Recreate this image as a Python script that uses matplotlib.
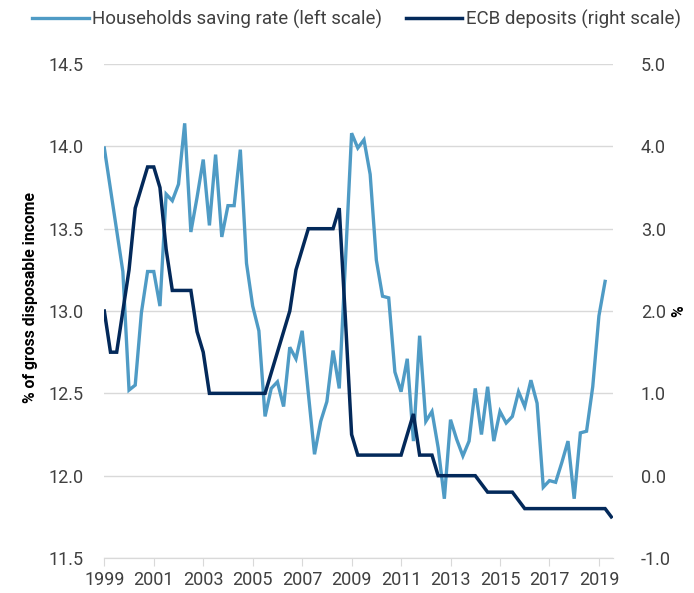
import matplotlib
matplotlib.use("Agg")
import matplotlib.pyplot as plt
import numpy as np

plt.rcParams['font.family'] = ['Roboto', 'DejaVu Sans']

# quarterly data, first quarter = 1999 Q1
start_year = 1999
saving_rate = [13.99, 13.74, 13.49, 13.24, 12.52, 12.55, 12.99, 13.24, 13.24, 13.03,
               13.71, 13.67, 13.77, 14.14, 13.48, 13.69, 13.92, 13.52, 13.95, 13.45,
               13.64, 13.64, 13.98, 13.29, 13.03, 12.88, 12.36, 12.53, 12.57, 12.42,
               12.78, 12.71, 12.88, 12.50, 12.13, 12.33, 12.45, 12.76, 12.53, 13.30,
               14.08, 13.99, 14.04, 13.83, 13.31, 13.09, 13.08, 12.63, 12.51, 12.71,
               12.21, 12.85, 12.33, 12.39, 12.17, 11.86, 12.34, 12.22, 12.12, 12.21,
               12.53, 12.25, 12.54, 12.21, 12.39, 12.32, 12.36, 12.51, 12.42, 12.58,
               12.44, 11.93, 11.97, 11.96, 12.08, 12.21, 11.86, 12.26, 12.27, 12.54,
               12.97, 13.18]
ecb_deposits = [2.0, 1.5, 1.5, 2.0, 2.5, 3.25, 3.5, 3.75, 3.75, 3.5,
                2.75, 2.25, 2.25, 2.25, 2.25, 1.75, 1.5, 1.0, 1.0, 1.0,
                1.0, 1.0, 1.0, 1.0, 1.0, 1.0, 1.0, 1.25, 1.5, 1.75,
                2.0, 2.5, 2.75, 3.0, 3.0, 3.0, 3.0, 3.0, 3.25, 1.9,
                0.5, 0.25, 0.25, 0.25, 0.25, 0.25, 0.25, 0.25, 0.25, 0.5,
                0.75, 0.25, 0.25, 0.25, 0.0, 0.0, 0.0, 0.0, 0.0, 0.0,
                0.0, -0.1, -0.2, -0.2, -0.2, -0.2, -0.2, -0.3, -0.4, -0.4,
                -0.4, -0.4, -0.4, -0.4, -0.4, -0.4, -0.4, -0.4, -0.4, -0.4,
                -0.4, -0.4, -0.5]
year_ticks = list(range(1999, 2020, 2))
left_ticks = [11.5, 12.0, 12.5, 13.0, 13.5, 14.0, 14.5]
right_ticks = [-1.0, 0.0, 1.0, 2.0, 3.0, 4.0, 5.0]

x_saving = start_year + np.arange(len(saving_rate)) / 4
x_ecb = start_year + np.arange(len(ecb_deposits)) / 4

light = '#4f9bc5'
dark = '#03295a'
grid = '#d9d9d9'
text = '#404040'

fig = plt.figure(figsize=(6.94, 5.93), dpi=100)
ax = fig.add_axes([0.1503, 0.059, 0.8833 - 0.1503, 0.892 - 0.059])
ax2 = ax.twinx()

l1, = ax.plot(x_saving, saving_rate, color=light, lw=2.4, solid_joinstyle='miter', zorder=3)
l2, = ax2.plot(x_ecb, ecb_deposits, color=dark, lw=2.5, solid_joinstyle='miter', zorder=3)

ax.set_xlim(1999, 2019.57)
ax.set_ylim(11.5, 14.5)
ax2.set_ylim(-1.0, 5.0)

ax.set_yticks(left_ticks)
ax.set_yticklabels([f'{v:.1f}' for v in left_ticks])
ax2.set_yticks(right_ticks)
ax2.set_yticklabels([f'{v:.1f}' for v in right_ticks])
ax.set_xticks(year_ticks)
ax.set_xticklabels([str(y) for y in year_ticks])

ax.grid(axis='y', color=grid, lw=1)
ax.set_axisbelow(True)

for a in (ax, ax2):
    for s in ('top', 'left', 'right'):
        a.spines[s].set_visible(False)
    a.spines['bottom'].set_color(grid)

ax.tick_params(axis='x', length=6, color=grid, pad=3, labelsize=13, labelcolor=text)
ax.tick_params(axis='y', length=0, pad=15, labelsize=13, labelcolor=text)
ax2.tick_params(axis='y', length=0, pad=20, labelsize=13, labelcolor=text)

ax.set_ylabel('% of gross disposable income', fontsize=11.3, fontweight='bold', color='black')
ax.yaxis.set_label_coords(-0.13, 0.528)
ax2.set_ylabel('%', fontsize=11.3, fontweight='bold', color='black', rotation=90)
ax2.yaxis.set_label_coords(1.115, 0.5)

fig.legend([l1, l2], ['Households saving rate (left scale)', 'ECB deposits (right scale)'],
           loc='center', bbox_to_anchor=(0.514, 0.968), ncol=2, frameon=False,
           fontsize=13.5, handlelength=3.0, handletextpad=0.2, columnspacing=1.25,
           labelcolor=text)

fig.savefig('out.png', dpi=100)
